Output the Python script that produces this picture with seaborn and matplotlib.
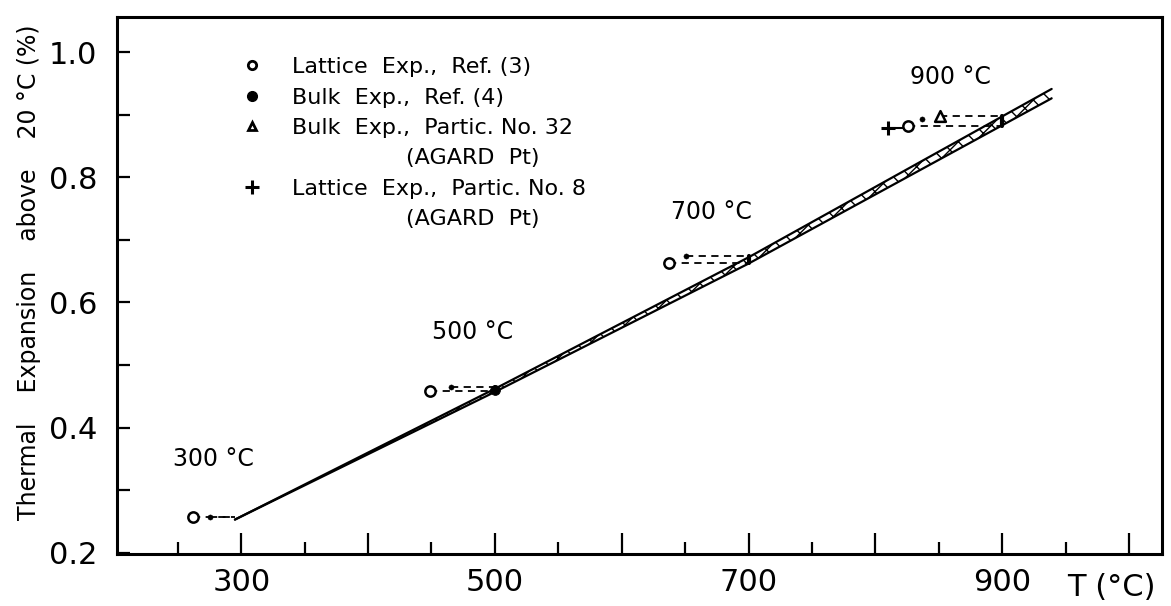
import matplotlib
matplotlib.use("Agg")
import matplotlib.pyplot as plt
import matplotlib.ticker as mticker
from matplotlib.lines import Line2D
import seaborn as sns
import pandas as pd

# ---------------- data ----------------
band_T = [295, 500, 700, 939]
band_upper = [0.253, 0.462, 0.672, 0.941]
band_lower = [0.253, 0.457, 0.662, 0.926]

nominal_T = [300, 500, 700, 900]
nominal_labels = ["300 °C", "500 °C", "700 °C", "900 °C"]
label_T = [278, 482, 671, 859]
label_y = [0.350, 0.553, 0.745, 0.960]
dash_end_T = [295, 500, 700, 900]

lattice_T = [262, 449, 637, 826]
lattice_y = [0.257, 0.459, 0.663, 0.882]
bulk_T = [275, 465, 651, 837]
bulk_y = [0.257, 0.465, 0.674, 0.893]
p32_T = [851]
p32_y = [0.897]
p8_T = [810]
p8_y = [0.879]

upper_dash_y = [0.257, 0.465, 0.674, 0.897]
upper_dash_T = [275, 465, 651, 851]

x_ticks_labeled = [300, 500, 700, 900]
y_ticks = [0.2, 0.4, 0.6, 0.8, 1.0]

legend_labels = ["Lattice  Exp.,  Ref. (3)", "Bulk  Exp.,  Ref. (4)",
                 "Bulk  Exp.,  Partic. No. 32", "(AGARD  Pt)",
                 "Lattice  Exp.,  Partic. No. 8", "(AGARD  Pt)"]

# ---------------- style ----------------
sns.set_theme(style="white")
plt.rcParams["font.family"] = ["DejaVu Sans"]
plt.rcParams["text.color"] = "black"
plt.rcParams["axes.labelcolor"] = "black"
plt.rcParams["xtick.color"] = "black"
plt.rcParams["ytick.color"] = "black"

fig = plt.figure(figsize=(11.71, 6.06), dpi=100)
ax = fig.add_axes([0.0999, 0.0858, 0.8924, 0.8862])

# band
band_df = pd.DataFrame({"T": band_T, "upper": band_upper, "lower": band_lower})
ax.fill_between(band_df["T"], band_df["lower"], band_df["upper"],
                facecolor="white", edgecolor="black", hatch="xx", linewidth=0, zorder=2)
sns.lineplot(data=band_df, x="T", y="upper", ax=ax, color="black", lw=1.6, zorder=3)
sns.lineplot(data=band_df, x="T", y="lower", ax=ax, color="black", lw=1.6, zorder=3)

# dashed connectors
for i in range(len(nominal_T)):
    ax.plot([lattice_T[i], dash_end_T[i]], [lattice_y[i], lattice_y[i]],
            color="black", lw=1.3, ls=(0, (4, 3)), zorder=2)
    ax.plot([upper_dash_T[i], dash_end_T[i]], [upper_dash_y[i], upper_dash_y[i]],
            color="black", lw=1.3, ls=(0, (4, 3)), zorder=2)
    if i > 0:
        ax.plot([nominal_T[i], nominal_T[i]], [lattice_y[i], upper_dash_y[i]],
                color="black", lw=3, zorder=4)
ax.plot([p8_T[0], lattice_T[3]], [p8_y[0], p8_y[0]], color="black", lw=1.5, zorder=2)

# markers
sns.scatterplot(x=lattice_T, y=lattice_y, ax=ax, marker="o", s=55,
                facecolor="white", edgecolor="black", linewidth=1.8, zorder=5)
sns.scatterplot(x=bulk_T, y=bulk_y, ax=ax, marker="o", s=14,
                color="black", edgecolor="black", zorder=5)
sns.scatterplot(x=[nominal_T[1]], y=[0.460], ax=ax, marker="o", s=50,
                color="black", edgecolor="black", zorder=5)
sns.scatterplot(x=p32_T, y=p32_y, ax=ax, marker="^", s=60,
                facecolor="white", edgecolor="black", linewidth=1.8, zorder=5)
sns.scatterplot(x=p8_T, y=p8_y, ax=ax, marker="+", s=110,
                color="black", linewidth=2.2, zorder=5)

# temperature annotations
for t, yv, lab in zip(label_T, label_y, nominal_labels):
    ax.text(t, yv, lab, ha="center", va="center", fontsize=17)

# axes
ax.set_xlim(202, 1026)
ax.set_ylim(0.198, 1.056)
ax.xaxis.set_major_locator(mticker.MultipleLocator(100))
ax.xaxis.set_minor_locator(mticker.MultipleLocator(50))
ax.xaxis.set_major_formatter(mticker.FuncFormatter(
    lambda v, p: f"{int(round(v))}" if int(round(v)) in x_ticks_labeled else ""))
ax.set_yticks(y_ticks)
ax.set_yticklabels([f"{v:.1f}" for v in y_ticks])
ax.yaxis.set_minor_locator(mticker.MultipleLocator(0.1))
ax.tick_params(axis="x", which="major", direction="in", length=15, width=1.6,
               labelsize=22, pad=10)
ax.tick_params(axis="x", which="minor", direction="in", length=9, width=1.6)
ax.tick_params(axis="y", which="both", direction="in", length=9, width=1.6,
               labelsize=22, pad=14)
ax.tick_params(bottom=True, left=True, which="both")
for s in ax.spines.values():
    s.set_linewidth(2.2)
    s.set_color("black")
ax.set_xlabel("")
ax.set_ylabel("Thermal    Expansion    above    20 °C (%)", fontsize=17)
ax.yaxis.set_label_coords(-0.073, 0.525)
ax.text(0.952, -0.062, "T (°C)", transform=ax.transAxes, ha="center", va="center",
        fontsize=22)
ax.grid(False)

# legend
handles = [
    Line2D([], [], linestyle="none", marker="o", markersize=6, markerfacecolor="white",
           markeredgecolor="black", markeredgewidth=2),
    Line2D([], [], linestyle="none", marker="o", markersize=7, color="black"),
    Line2D([], [], linestyle="none", marker="^", markersize=6, markerfacecolor="white",
           markeredgecolor="black", markeredgewidth=2),
    Line2D([], [], linestyle="none", marker="none"),
    Line2D([], [], linestyle="none", marker="+", markersize=10, color="black",
           markeredgewidth=2.2),
    Line2D([], [], linestyle="none", marker="none"),
]
labels = list(legend_labels)
labels[3] = " " * 16 + labels[3]
labels[5] = " " * 16 + labels[5]
leg = ax.legend(handles=handles, labels=labels, loc="upper left",
                bbox_to_anchor=(0.110, 0.946), frameon=False, fontsize=16,
                handlelength=0.8, handletextpad=1.4, labelspacing=0.47,
                borderpad=0)

fig.savefig("out.png", dpi=100)
